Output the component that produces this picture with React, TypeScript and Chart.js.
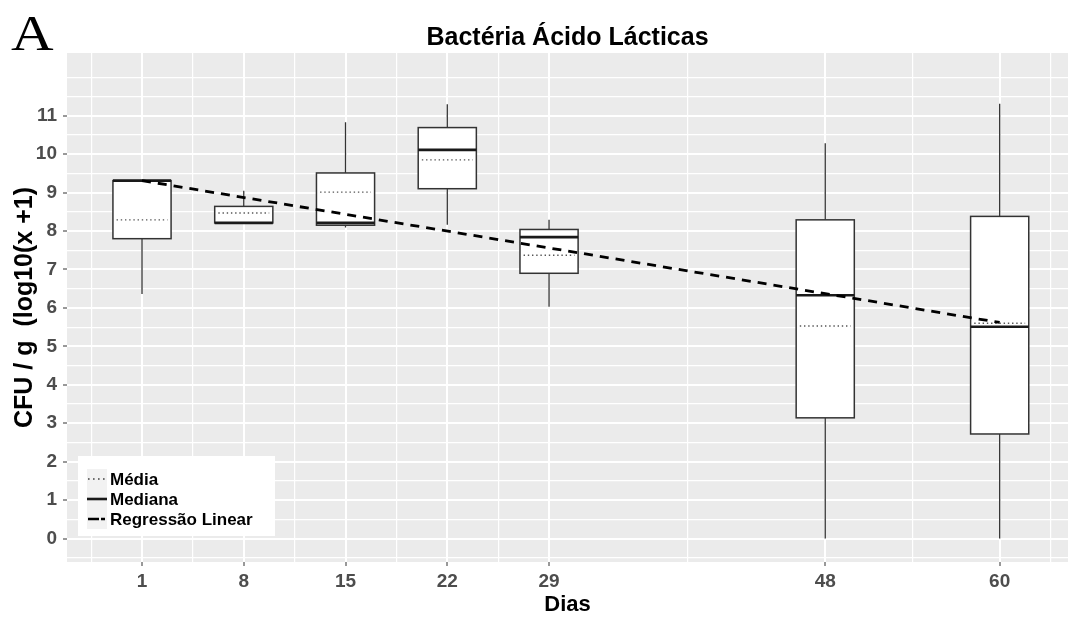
import React, { useEffect, useRef } from "react";
import { Chart, registerables } from "chart.js";

Chart.register(...registerables);

// Sampling days and the box statistics for each day
const days = [1, 8, 15, 22, 29, 48, 60];
const whiskerLow = [6.36, 8.21, 8.09, 8.16, 6.03, 0, 0];
const q1 = [7.8, 8.21, 8.15, 9.1, 6.9, 3.14, 2.72];
const median = [9.31, 8.21, 8.21, 10.11, 7.84, 6.33, 5.51];
const q3 = [9.31, 8.64, 9.51, 10.69, 8.04, 8.29, 8.38];
const whiskerHigh = [9.31, 9.05, 10.83, 11.3, 8.29, 10.28, 11.31];
const mean = [8.29, 8.47, 9.01, 9.85, 7.37, 5.53, 5.6];

// Fitted linear regression, evaluated at its two end days
const regressionDays = [1, 60];
const regressionValues = [9.31, 5.62];

// Axis breaks
const yMajor = [0, 1, 2, 3, 4, 5, 6, 7, 8, 9, 10, 11];
const yMinor = [-0.5, 0.5, 1.5, 2.5, 3.5, 4.5, 5.5, 6.5, 7.5, 8.5, 9.5, 10.5, 11.5, 12];
const xMajor = days;
const xMinor = [-2.5, 4.5, 11.5, 18.5, 25.5, 38.5, 54, 63.5];

const BOX_HALF = 2; // half box width, in days

const FONT = "'Liberation Sans', Arial, sans-serif";
const PANEL_BG = "#EBEBEB";
const INK = "#333333";

const panelPlugin = {
  id: "panelBackground",
  beforeDraw(chart: any) {
    const { ctx, chartArea } = chart;
    ctx.save();
    ctx.fillStyle = PANEL_BG;
    ctx.fillRect(chartArea.left, chartArea.top, chartArea.right - chartArea.left, chartArea.bottom - chartArea.top);
    ctx.restore();
  },
};

const boxPlugin = {
  id: "boxes",
  beforeDatasetsDraw(chart: any) {
    const { ctx } = chart;
    const xs = chart.scales.x;
    const ys = chart.scales.y;
    ctx.save();
    days.forEach((d, i) => {
      const xc = xs.getPixelForValue(d);
      const xl = xs.getPixelForValue(d - BOX_HALF);
      const xr = xs.getPixelForValue(d + BOX_HALF);
      const yq1 = ys.getPixelForValue(q1[i]);
      const yq3 = ys.getPixelForValue(q3[i]);
      // whiskers
      ctx.strokeStyle = INK;
      ctx.lineWidth = 1.3;
      ctx.setLineDash([]);
      ctx.beginPath();
      ctx.moveTo(xc, ys.getPixelForValue(whiskerHigh[i]));
      ctx.lineTo(xc, yq3);
      ctx.moveTo(xc, yq1);
      ctx.lineTo(xc, ys.getPixelForValue(whiskerLow[i]));
      ctx.stroke();
      // box
      ctx.fillStyle = "#FFFFFF";
      ctx.fillRect(xl, yq3, xr - xl, yq1 - yq3);
      ctx.lineWidth = 1.5;
      ctx.strokeRect(xl, yq3, xr - xl, yq1 - yq3);
      // median
      const ym = ys.getPixelForValue(median[i]);
      ctx.strokeStyle = "#1A1A1A";
      ctx.lineWidth = 2.6;
      ctx.beginPath();
      ctx.moveTo(xl, ym);
      ctx.lineTo(xr, ym);
      ctx.stroke();
      // mean (dotted)
      const ya = ys.getPixelForValue(mean[i]);
      ctx.strokeStyle = "#555555";
      ctx.lineWidth = 1.4;
      ctx.setLineDash([1.4, 2.8]);
      ctx.beginPath();
      ctx.moveTo(xs.getPixelForValue(d - 1.75), ya);
      ctx.lineTo(xs.getPixelForValue(d + 1.75), ya);
      ctx.stroke();
      ctx.setLineDash([]);
    });
    ctx.restore();
  },
};

const legendItems = ["Média", "Mediana", "Regressão Linear"];

const decorPlugin = {
  id: "decor",
  afterDraw(chart: any) {
    const { ctx } = chart;
    ctx.save();
    // panel tag
    ctx.save();
    ctx.fillStyle = "#000000";
    ctx.font = `50px 'Liberation Serif', 'Times New Roman', serif`;
    ctx.textBaseline = "alphabetic";
    ctx.textAlign = "left";
    ctx.translate(11, 50);
    ctx.scale(1.18, 1);
    ctx.fillText("A", 0, 0);
    ctx.restore();

    // legend box
    const lx = 78, ly = 456, lw = 197, lh = 80;
    ctx.fillStyle = "#FFFFFF";
    ctx.fillRect(lx, ly, lw, lh);
    legendItems.forEach((label, i) => {
      const ky = 469 + i * 20;
      ctx.fillStyle = "#F2F2F2";
      ctx.fillRect(87, ky, 20, 20);
      const cy = ky + 10;
      ctx.beginPath();
      if (i === 0) {
        ctx.strokeStyle = "#444444";
        ctx.lineWidth = 1.6;
        ctx.setLineDash([1.6, 3.4]);
        ctx.moveTo(88, cy);
        ctx.lineTo(107, cy);
      } else if (i === 1) {
        ctx.strokeStyle = "#1A1A1A";
        ctx.lineWidth = 2.6;
        ctx.setLineDash([]);
        ctx.moveTo(87, cy);
        ctx.lineTo(107, cy);
      } else {
        ctx.strokeStyle = "#000000";
        ctx.lineWidth = 2.6;
        ctx.setLineDash([11, 2, 4, 20]);
        ctx.moveTo(88, cy);
        ctx.lineTo(107, cy);
      }
      ctx.stroke();
      ctx.setLineDash([]);
      ctx.fillStyle = "#000000";
      ctx.font = `bold 17px ${FONT}`;
      ctx.textBaseline = "middle";
      ctx.fillText(label, 110, cy + 1);
    });
    ctx.restore();
  },
};

export default function App() {
  const ref = useRef<HTMLCanvasElement>(null);

  useEffect(() => {
    document.body.style.margin = "0";
    const canvas = ref.current!;
    const chart = new Chart(canvas, {
      type: "line",
      data: {
        datasets: [
          {
            label: "Regressão Linear",
            data: regressionDays.map((d, i) => ({ x: d, y: regressionValues[i] })),
            borderColor: "#000000",
            borderWidth: 2.8,
            borderDash: [9, 7],
            pointRadius: 0,
            fill: false,
          },
        ],
      },
      options: {
        responsive: false,
        animation: false,
        layout: { padding: 0 },
        plugins: {
          legend: { display: false },
          tooltip: { enabled: false },
          title: {
            display: true,
            fullSize: false,
            text: "Bactéria Ácido Lácticas",
            color: "#000000",
            font: { family: FONT, size: 25, weight: "bold" },
            padding: { top: 23, bottom: 0 },
          },
        },
        scales: {
          x: {
            type: "linear",
            min: -4.16,
            max: 64.7,
            afterBuildTicks: (s: any) => {
              s.ticks = [...xMajor, ...xMinor].sort((a, b) => a - b).map((v) => ({ value: v }));
            },
            afterFit: (s: any) => {
              s.height = 57;
            },
            ticks: {
              autoSkip: false,
              maxRotation: 0,
              padding: 4,
              color: "#4D4D4D",
              font: { family: FONT, size: 19, weight: "bold" },
              callback: (v: any) => (xMajor.includes(v) ? String(v) : ""),
            },
            grid: {
              color: "#FFFFFF",
              lineWidth: (c: any) => (xMajor.includes(c.tick?.value) ? 2 : 1.2),
              drawTicks: true,
              tickLength: 4,
              tickColor: (c: any) => (xMajor.includes(c.tick?.value) ? INK : "rgba(0,0,0,0)"),
              tickWidth: 1,
            },
            border: { display: false },
            title: {
              display: true,
              text: "Dias",
              color: "#000000",
              font: { family: FONT, size: 22, weight: "bold" },
              padding: { top: 0, bottom: 1 },
            },
          },
          y: {
            type: "linear",
            min: -0.61,
            max: 12.63,
            afterBuildTicks: (s: any) => {
              s.ticks = [...yMajor, ...yMinor].sort((a, b) => a - b).map((v) => ({ value: v }));
            },
            afterFit: (s: any) => {
              s.width = 67;
            },
            ticks: {
              autoSkip: false,
              padding: 6,
              color: "#4D4D4D",
              font: { family: FONT, size: 19, weight: "bold" },
              callback: (v: any) => (yMajor.includes(v) ? String(v) : ""),
            },
            grid: {
              color: "#FFFFFF",
              lineWidth: (c: any) => (yMajor.includes(c.tick?.value) ? 2 : 1.2),
              drawTicks: true,
              tickLength: 4,
              tickColor: (c: any) => (yMajor.includes(c.tick?.value) ? INK : "rgba(0,0,0,0)"),
              tickWidth: 1,
            },
            border: { display: false },
            title: {
              display: true,
              text: "CFU / g  (log10(x +1)",
              color: "#000000",
              font: { family: FONT, size: 25, weight: "bold" },
              padding: { top: 10, bottom: 0 },
            },
          },
        },
      },
      plugins: [panelPlugin, boxPlugin, decorPlugin],
    });
    return () => chart.destroy();
  }, []);

  return <canvas ref={ref} width={1068} height={619} style={{ display: "block" }} />;
}
